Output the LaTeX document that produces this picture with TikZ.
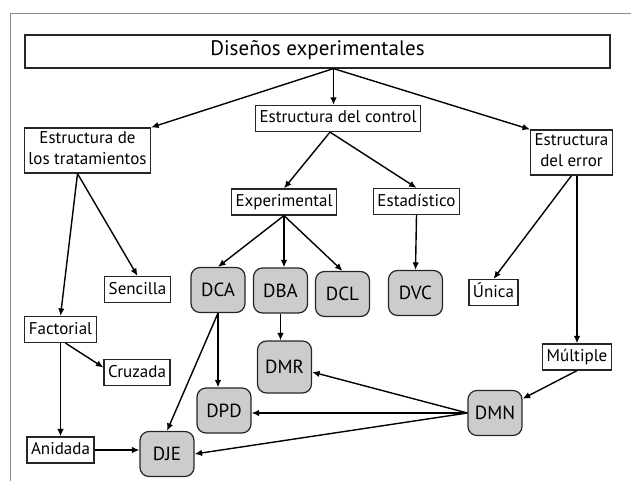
\documentclass[tikz,border=0pt]{standalone}
\usepackage{fontspec}
\setmainfont{PT Sans}
\usetikzlibrary{arrows.meta}

\begin{document}
\begin{tikzpicture}[x=1pt,y=-1pt]
				\tikzstyle{caja}=[draw=black!85,fill=white,line width=1.2pt,inner xsep=4pt,inner ysep=5pt,
				text height=12.5pt,text depth=3.5pt,align=center,font=\fontsize{17}{21}\selectfont]
				\tikzstyle{diseno}=[draw=black!85,fill=black!20,line width=1.2pt,rounded corners=9pt,
				minimum width=54pt,minimum height=45pt,font=\fontsize{19}{21}\selectfont]
				\tikzstyle{flecha}=[-{Latex[length=7.5pt,width=6.5pt]},line width=1.4pt]
				\useasboundingbox (0,0) rectangle (631,481);
				\draw[black!45,line width=0.8pt] (631,13) -- (10,13) -- (10,481);
				\node[caja,minimum width=585pt,minimum height=33pt,font=\fontsize{21}{25}\selectfont] (tit) at (317.5,51.5) {Diseños experimentales};
				\node[caja] (ctrl) at (338,118.5) {Estructura del control};
				\node[caja,text height=31.5pt] (trat) at (87.5,150.5) {Estructura de\\los tratamientos};
				\node[caja,text height=31.5pt] (err) at (571.5,152.5) {Estructura\\del error};
				\node[caja] (expe) at (284,202) {Experimental};
				\node[caja] (esta) at (416.5,201.5) {Estadístico};
				\node[caja] (sen) at (137.5,289.5) {Sencilla};
				\node[caja] (fact) at (60.5,329.5) {Factorial};
				\node[caja] (cruz) at (137,372.5) {Cruzada};
				\node[caja] (ani) at (60.5,450) {Anidada};
				\node[caja] (una) at (493.5,292.5) {Única};
				\node[caja] (mult) at (577,357) {Múltiple};
				\node[diseno] (dca) at (218,290) {DCA};
				\node[diseno] (dba) at (280.5,290.5) {DBA};
				\node[diseno] (dcl) at (342.5,294) {DCL};
				\node[diseno] (dvc) at (415.5,293) {DVC};
				\node[diseno,minimum height=52pt] (dmr) at (284.5,367) {DMR};
				\node[diseno] (dpd) at (224,410.5) {DPD};
				\node[diseno] (dje) at (167,454) {DJE};
				\node[diseno] (dmn) at (495,413) {DMN};
				\coordinate (t0) at ([xshift=16pt]tit.south);
				\coordinate (c0) at ([xshift=-8pt]ctrl.south);
				\coordinate (r0) at ([xshift=-10pt]trat.south);
				\draw[flecha] (t0) -- (trat.north east);
				\draw[flecha] (t0) -- (t0 |- ctrl.north);
				\draw[flecha] (t0) -- (err.north west);
				\draw[flecha] (c0) -- (expe.north);
				\draw[flecha] (c0) -- (esta.north);
				\draw[flecha] (expe.south) -- (dca.north);
				\draw[flecha] (expe.south) -- (expe.south |- dba.north);
				\draw[flecha] (expe.south) -- (dcl.north);
				\draw[flecha] (esta.south) -- (dvc.north);
				\draw[flecha] (r0) -- (fact.north);
				\draw[flecha] (r0) -- (sen.north);
				\draw[flecha] (err.south) -- (una.north);
				\draw[flecha] (err.south -| mult.north) -- (mult.north);
				\draw[flecha] (mult.south) -- (dmn);
				\draw[flecha] (dmn.west) -- ([yshift=-5pt]dmr.east);
				\draw[flecha] (dmn.west) -- (dmn.west -| dpd.east);
				\draw[flecha] (dmn.west) -- (dje.east);
				\draw[flecha] (dca.south) -- (dca.south |- dpd.north);
				\draw[flecha] (dca.south) -- (dje.north);
				\draw[flecha] (dba.south) -- (dba.south |- dmr.north);
				\draw[flecha] ([xshift=5pt]fact.south) -- ([yshift=5pt]cruz.west);
				\draw[flecha] (fact.south) -- (ani.north);
				\draw[flecha] (ani.east) -- (ani.east -| dje.west);
\end{tikzpicture}
\end{document}
